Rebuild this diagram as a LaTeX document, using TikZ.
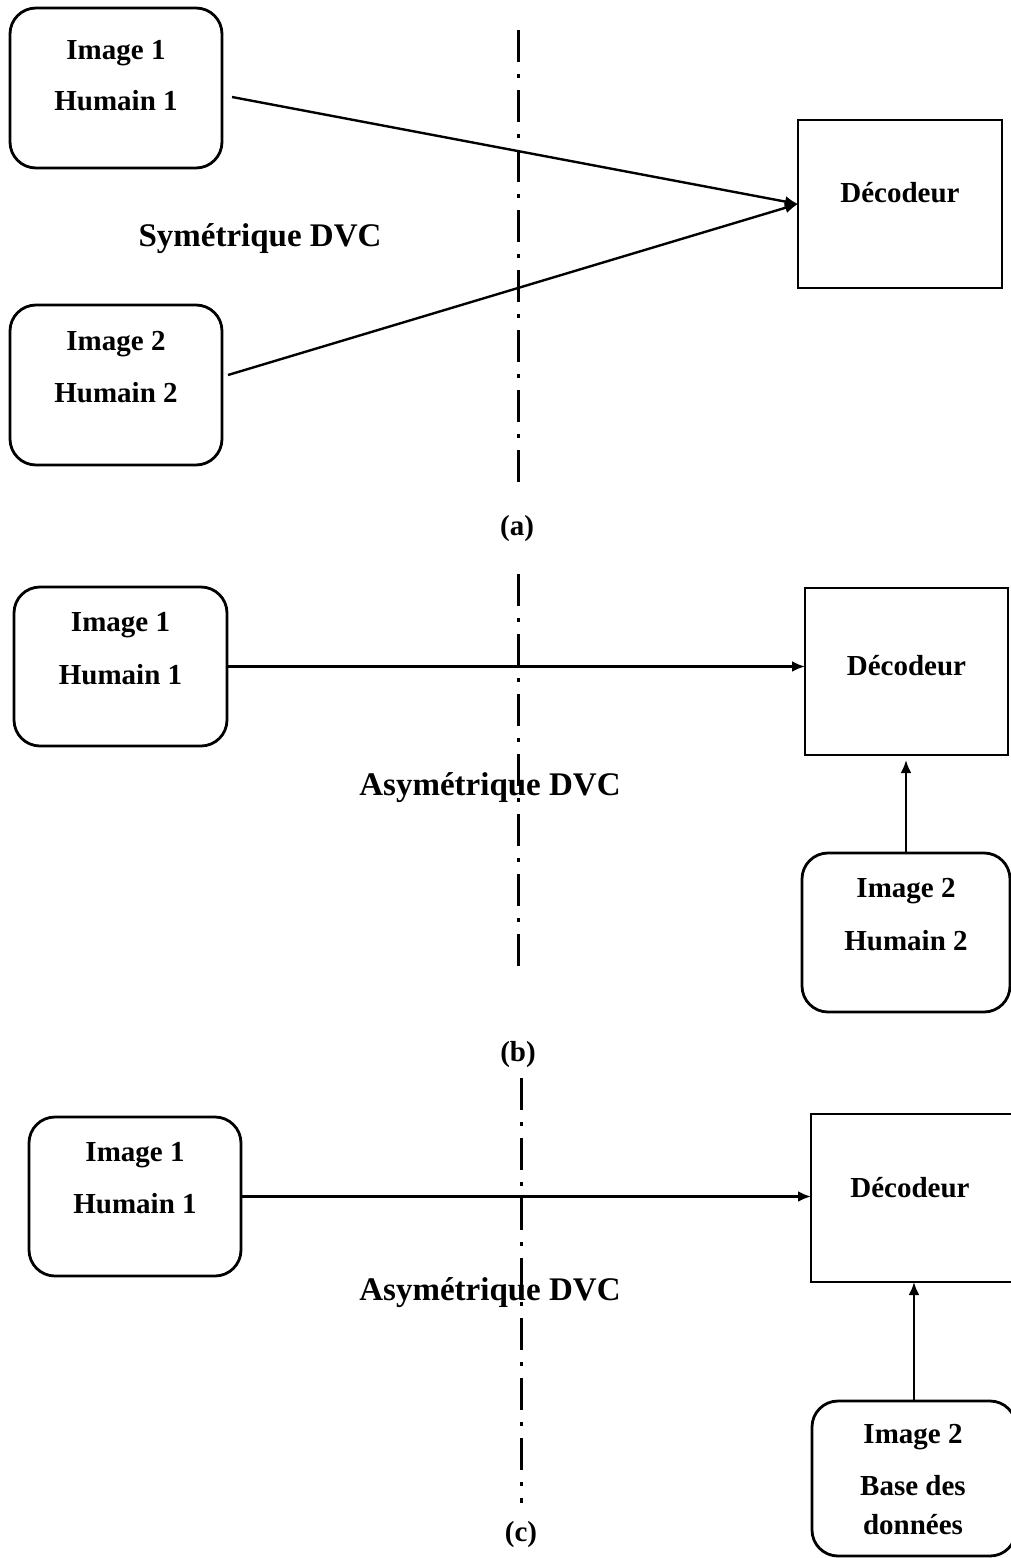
\documentclass[tikz,border=0pt]{standalone}
\usepackage{fontspec}
\setmainfont{Liberation Serif}
\usetikzlibrary{arrows.meta}
\begin{document}
\begin{tikzpicture}[x=1pt,y=-1pt,
  rbox/.style={draw, line width=2.8pt, rounded corners=26pt, inner sep=0pt, outer sep=0pt},
  sbox/.style={draw, line width=2.8pt, inner sep=0pt, outer sep=0pt},
  txt/.style={font=\bfseries\fontsize{29}{34}\selectfont, anchor=base, inner sep=0pt},
  lab/.style={font=\bfseries\fontsize{33}{38}\selectfont, anchor=base, inner sep=0pt},
  conn/.style={line width=2.4pt, -{Latex[length=13pt,width=11pt]}},
  axis/.style={line width=3pt, dash pattern=on 32pt off 12pt on 3.5pt off 12.5pt}]
\useasboundingbox (0,0) rectangle (1011,1558);
\fill[white] (0,0) rectangle (1011,1558);
\clip (0,0) rectangle (1011,1558);

% ---------- (a) symmetric ----------
\node[rbox, minimum width=212pt, minimum height=160pt] (A1) at (116,88) {};
\node[txt] (A1t1) at (116,59) {Image 1};
\node[txt] (A1t2) at (116,110) {Humain 1};
\node[rbox, minimum width=212pt, minimum height=160pt] (A2) at (116,385) {};
\node[txt] (A2t1) at (116,350) {Image 2};
\node[txt] (A2t2) at (116,402) {Humain 2};
\node[sbox, minimum width=204pt, minimum height=168pt] (decA) at (900,204) {};
\node[txt] (decAt) at (900,202) {Décodeur};
\node[lab] (symA) at (260,246) {Symétrique DVC};
\coordinate (axA0) at (518,30);
\coordinate (axA1) at (518,482);
\draw[axis] (axA0) -- (axA1);
\node[txt] (capA) at (517,535) {(a)};
\coordinate (a1s) at (232,97);
\coordinate (a2s) at (228,375);
\draw[conn] (a1s) -- (decA.west);
\draw[conn] (a2s) -- (decA.west);

% ---------- (b) asymmetric ----------
\node[rbox, minimum width=213pt, minimum height=159pt] (B1) at (120.5,666.5) {};
\node[txt] (B1t1) at (120.5,631) {Image 1};
\node[txt] (B1t2) at (120.5,684) {Humain 1};
\node[sbox, minimum width=203pt, minimum height=167pt] (decB) at (906.5,671.5) {};
\node[txt] (decBt) at (906.5,675) {Décodeur};
\node[rbox, minimum width=208pt, minimum height=159pt] (B2) at (906,932.5) {};
\node[txt] (B2t1) at (906,897) {Image 2};
\node[txt] (B2t2) at (906,950) {Humain 2};
\coordinate (axB0) at (518,574);
\coordinate (axB1) at (518,966);
\draw[axis] (axB0) -- (axB1);
\node[lab] (asymB) at (490,795) {Asymétrique DVC};
\node[txt] (capB) at (518,1061) {(b)};
\draw[conn] (B1.east) -- (B1.east -| decB.west);
\draw[conn, shorten >=5pt] (B2.north) -- (B2.north |- decB.south);

% ---------- (c) asymmetric with database ----------
\node[rbox, minimum width=212pt, minimum height=159pt] (C1) at (135,1196.5) {};
\node[txt] (C1t1) at (135,1161) {Image 1};
\node[txt] (C1t2) at (135,1213) {Humain 1};
\node[sbox, minimum width=203pt, minimum height=168pt] (decC) at (912.5,1198) {};
\node[txt] (decCt) at (910,1197) {Décodeur};
\node[rbox, minimum width=204pt, minimum height=155pt] (C2) at (914,1478.5) {};
\node[txt] (C2t1) at (913,1443) {Image 2};
\node[txt] (C2t2) at (913,1495) {Base des};
\node[txt] (C2t3) at (913,1534) {données};
\coordinate (axC0) at (521,1078);
\coordinate (axC1) at (521,1503);
\draw[axis] (axC0) -- (axC1);
\node[lab] (asymC) at (490,1300) {Asymétrique DVC};
\node[txt] (capC) at (521,1541) {(c)};
\draw[conn] (C1.east) -- (C1.east -| decC.west);
\draw[conn] (C2.north) -- (C2.north |- decC.south);
\end{tikzpicture}
\end{document}
